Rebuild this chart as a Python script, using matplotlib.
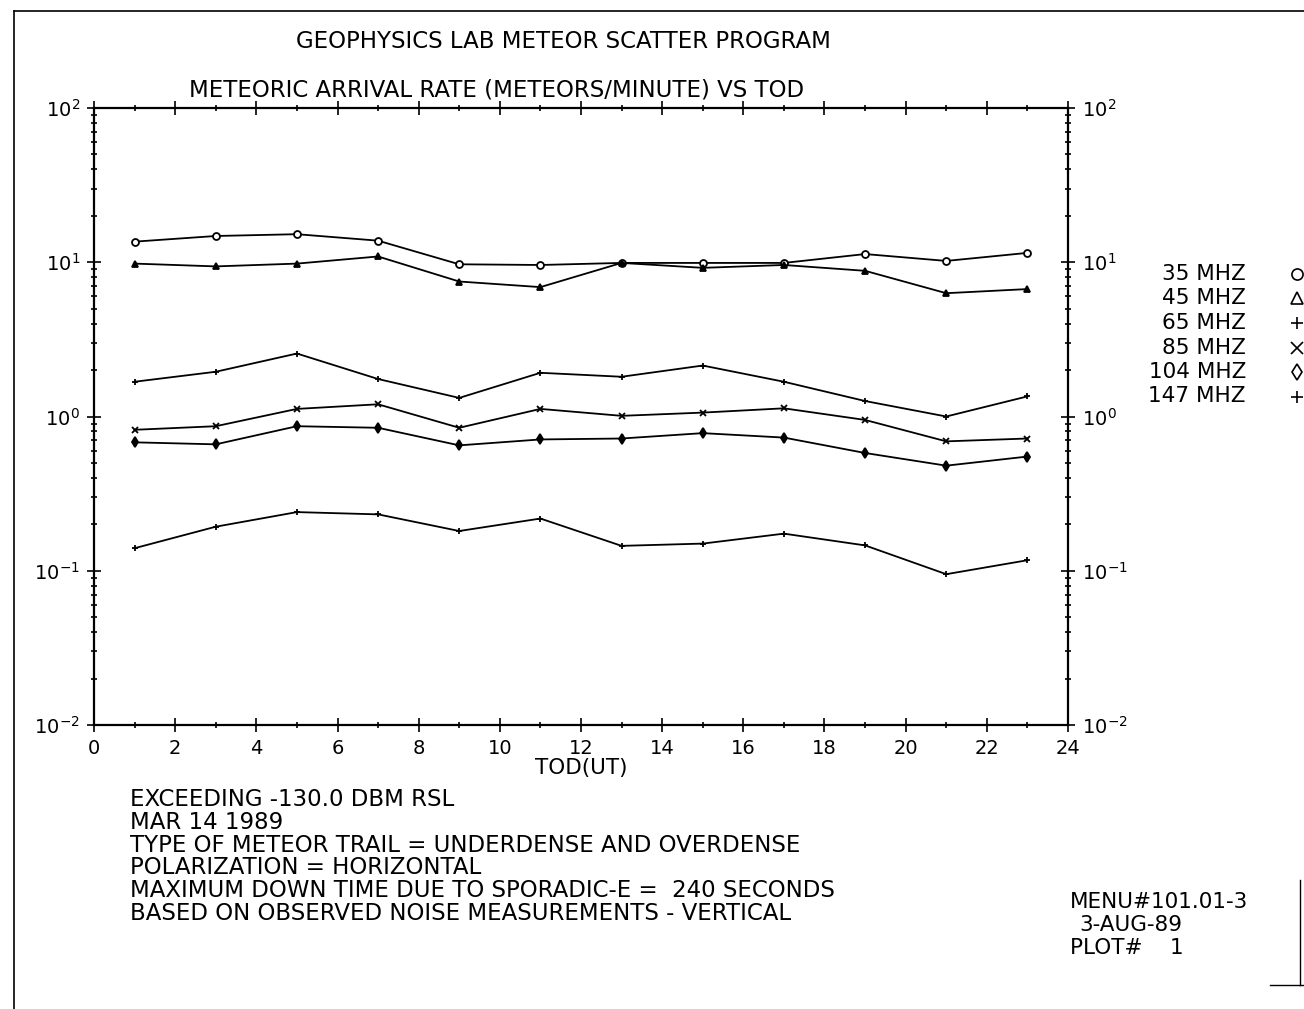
import numpy as np
import matplotlib.pyplot as plt
from matplotlib.lines import Line2D
from matplotlib.ticker import LogLocator, MultipleLocator, LogFormatterSciNotation

# hours of day (UT) at which rates were sampled
tod = [1, 3, 5, 7, 9, 11, 13, 15, 17, 19, 21, 23]

# meteor arrival rate (meteors/minute) per frequency
rate_35 = [13.6, 14.8, 15.2, 13.8, 9.7, 9.6, 9.9, 9.9, 9.9, 11.3, 10.2, 11.5]
rate_45 = [9.8, 9.4, 9.8, 10.9, 7.5, 6.9, 9.9, 9.2, 9.6, 8.8, 6.3, 6.7]
rate_65 = [1.68, 1.95, 2.56, 1.75, 1.32, 1.92, 1.81, 2.14, 1.68, 1.26, 1.00, 1.35]
rate_85 = [0.82, 0.865, 1.12, 1.20, 0.845, 1.12, 1.01, 1.06, 1.13, 0.95, 0.69, 0.72]
rate_104 = [0.68, 0.66, 0.865, 0.845, 0.65, 0.71, 0.72, 0.78, 0.73, 0.58, 0.48, 0.55]
rate_147 = [0.14, 0.193, 0.24, 0.232, 0.181, 0.218, 0.145, 0.150, 0.174, 0.146, 0.095, 0.117]

freq_labels = ["35 MHZ", "45 MHZ", "65 MHZ", "85 MHZ", "104 MHZ", "147 MHZ"]
markers = ["o", "^", "+", "x", "d", "+"]

notes = [
    "EXCEEDING -130.0 DBM RSL",
    "MAR 14 1989",
    "TYPE OF METEOR TRAIL = UNDERDENSE AND OVERDENSE",
    "POLARIZATION = HORIZONTAL",
    "MAXIMUM DOWN TIME DUE TO SPORADIC-E =  240 SECONDS",
    "BASED ON OBSERVED NOISE MEASUREMENTS - VERTICAL",
]

plt.rcParams['font.family'] = ['DejaVu Sans']
plt.rcParams['mathtext.fontset'] = 'dejavusans'

W, H = 1304, 1009
fig = plt.figure(figsize=(W / 100, H / 100), dpi=100)
ax = fig.add_axes([94 / W, 1 - 725 / H, (1068 - 94) / W, (725 - 108) / H])

series = [rate_35, rate_45, rate_65, rate_85, rate_104, rate_147]
for vals, mk in zip(series, markers):
    face = 'white' if mk == 'o' else 'black'
    ax.plot(tod, vals, color='black', lw=1.3, marker=mk, ms=5,
            mfc=face, mec='black', mew=1.3)

ax.set_yscale('log')
ax.set_xlim(0, 24)
ax.set_ylim(1e-2, 1e2)
ax.xaxis.set_major_locator(MultipleLocator(2))
ax.xaxis.set_minor_locator(MultipleLocator(1))
ax.yaxis.set_major_locator(LogLocator(base=10))
ax.yaxis.set_minor_locator(LogLocator(base=10, subs=np.arange(2, 10)))
ax.yaxis.set_major_formatter(LogFormatterSciNotation())
ax.yaxis.set_minor_formatter(plt.NullFormatter())

ax.tick_params(which='both', direction='inout', top=True, right=True,
               labelright=True, colors='black', labelsize=14, width=1.2)
ax.tick_params(which='major', length=10, pad=5)
ax.tick_params(which='minor', length=5)
for s in ax.spines.values():
    s.set_linewidth(1.6)

ax.set_xlabel("TOD(UT)", fontsize=15.5, labelpad=0)

fig.text(563 / W, 1 - 42 / H, "GEOPHYSICS LAB METEOR SCATTER PROGRAM",
         ha='center', va='center', fontsize=16.5)
fig.text(497 / W, 1 - 90 / H, "METEORIC ARRIVAL RATE (METEORS/MINUTE) VS TOD",
         ha='center', va='center', fontsize=16.5)

# legend column on the right
for i, (lab, mk) in enumerate(zip(freq_labels, markers)):
    y = 1 - (274 + i * 24.5) / H
    fig.text(1246 / W, y, lab, ha='right', va='center', fontsize=15.5)
    fig.add_artist(Line2D([1297 / W], [y], marker=mk, ms=8, mfc='white',
                          mec='black', mew=1.2, color='black'))

for i, line in enumerate(notes):
    fig.text(130 / W, 1 - (800 + i * 22.6) / H, line, ha='left', va='center',
             fontsize=16.5)

fig.text(1070 / W, 1 - 902 / H, "MENU#101.01-3", ha='left', va='center', fontsize=15.5)
fig.text(1079 / W, 1 - 925 / H, "3-AUG-89", ha='left', va='center', fontsize=15.5)
fig.text(1070 / W, 1 - 948 / H, "PLOT#    1", ha='left', va='center', fontsize=15.5)

# page frame lines
fig.add_artist(Line2D([14 / W, 1.0], [1 - 11 / H, 1 - 11 / H], color='black', lw=1.2))
fig.add_artist(Line2D([14 / W, 14 / W], [1 - 11 / H, 0.0], color='black', lw=1.2))
fig.add_artist(Line2D([1300 / W, 1300 / W], [1 - 880 / H, 1 - 985 / H], color='black', lw=1))
fig.add_artist(Line2D([1270 / W, 1.0], [1 - 985 / H, 1 - 985 / H], color='black', lw=1))

fig.savefig("out.png", dpi=100)
